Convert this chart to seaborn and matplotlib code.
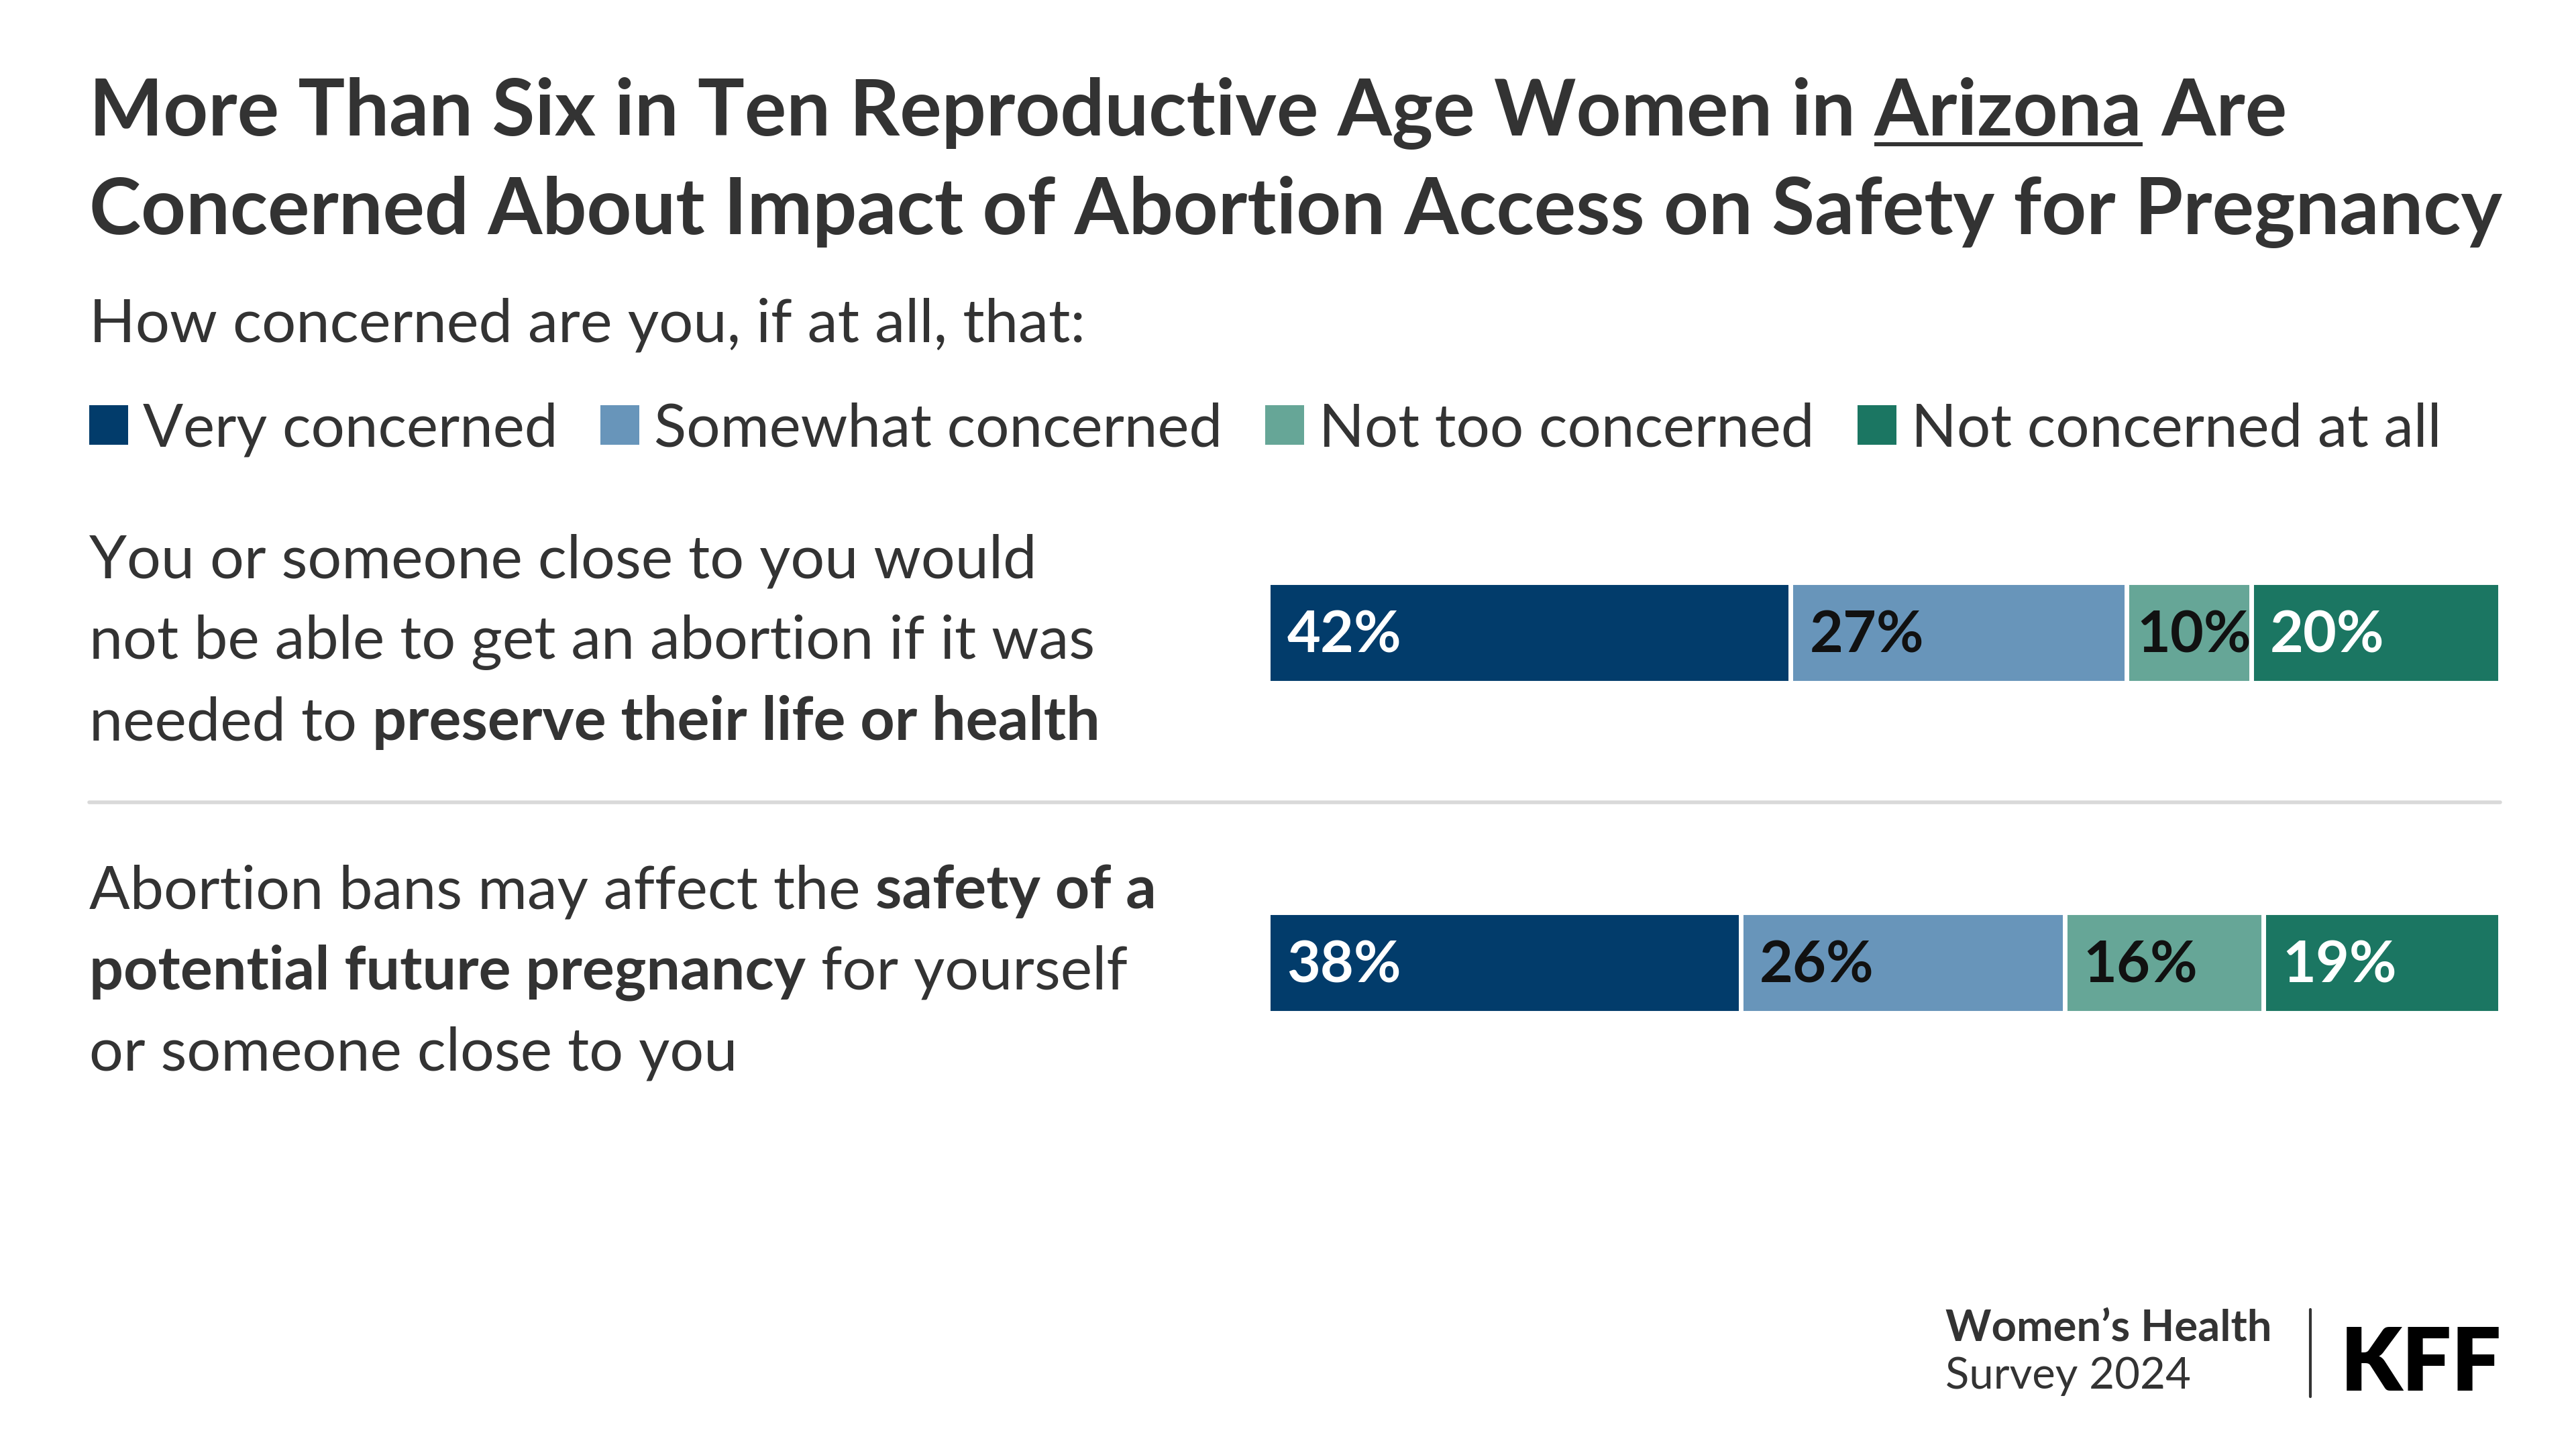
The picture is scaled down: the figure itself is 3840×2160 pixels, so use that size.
import numpy as np
import pandas as pd
import matplotlib
matplotlib.use("Agg")
import matplotlib.pyplot as plt
import seaborn as sns
from matplotlib.lines import Line2D
from matplotlib.patches import Patch

# data
questions = ["life_health", "future_pregnancy"]
categories = ["Very concerned", "Somewhat concerned", "Not too concerned", "Not concerned at all"]
very = [42, 38]
somewhat = [27, 26]
not_too = [10, 16]
not_at_all = [20, 19]

colors = ["#023c6b", "#6895ba", "#66a697", "#1b7662"]
label_colors = ["white", "#111111", "#111111", "white"]

sns.set_theme(style="white")
plt.rcParams["font.family"] = ["Lato", "DejaVu Sans"]
TXT = "#333333"

W, H = 19.2, 10.8
fig = plt.figure(figsize=(W, H), dpi=200)
renderer = fig.canvas.get_renderer()
FIG_W = W * 200


def runs_text(x, y, runs, size, color=TXT, underline=None):
    """draw pieces of text one after the other on a baseline"""
    for txt, weight in runs:
        t = fig.text(x, y, txt, fontsize=size, fontweight=weight, color=color,
                     ha="left", va="baseline")
        bb = t.get_window_extent(renderer)
        w = bb.width / FIG_W
        if underline is not None and txt == underline:
            fig.add_artist(Line2D([x, x + w], [y - 0.0062, y - 0.0062], transform=fig.transFigure,
                                  color=color, lw=2.2, solid_capstyle="butt"))
        x += w
    return x


# title
runs_text(0.0346, 0.9066, [("More Than Six in Ten Reproductive Age Women in ", "bold"),
                           ("Arizona", "bold"), (" Are", "bold")], 42, underline="Arizona")
runs_text(0.0346, 0.8382, [("Concerned About Impact of Abortion Access on Safety for Pregnancy", "bold")], 42)
fig.text(0.0346, 0.764, "How concerned are you, if at all, that:", fontsize=32.5, color=TXT,
         ha="left", va="baseline")

# legend
handles = [Patch(facecolor=c, edgecolor="none", label=l) for c, l in zip(colors, categories)]
fig.legend(handles=handles, loc="center left", bbox_to_anchor=(0.0346, 0.7037), ncol=4,
           frameon=False, fontsize=32, handlelength=0.65, handleheight=0.65,
           handletextpad=0.25, columnspacing=0.72, labelcolor=TXT, borderaxespad=0,
           borderpad=0)

# row labels
row1 = [[("You or someone close to you would", "normal")],
        [("not be able to get an abortion if it was", "normal")],
        [("needed to ", "normal"), ("preserve their life or health", "bold")]]
row2 = [[("Abortion bans may affect the ", "normal"), ("safety of a", "bold")],
        [("potential future pregnancy", "bold"), (" for yourself", "normal")],
        [("or someone close to you", "normal")]]
for runs, y in zip(row1, [0.601, 0.5452, 0.4893]):
    runs_text(0.0346, y, runs, 32.3)
for runs, y in zip(row2, [0.3731, 0.3172, 0.2614]):
    runs_text(0.0346, y, runs, 32.3)

fig.add_artist(Line2D([0.0346, 0.9705], [0.4462, 0.4462], transform=fig.transFigure,
                      color="#d9d9d9", lw=2))

# stacked bars
df = pd.DataFrame({"question": questions, categories[0]: very, categories[1]: somewhat,
                   categories[2]: not_too, categories[3]: not_at_all})
cum = df[categories].cumsum(axis=1)

ax = fig.add_axes([0.4923, 0.225, 0.9705 - 0.4923, 0.433])
for i in range(len(categories) - 1, -1, -1):
    sns.barplot(x=cum[categories[i]], y=df["question"], orient="h", color=colors[i],
                width=0.305, edgecolor="white", linewidth=2.5, ax=ax, saturation=1)

starts = cum.shift(1, axis=1).fillna(0)
for r in range(len(questions)):
    for i, c in enumerate(categories):
        pad = 0.8 if df.loc[r, c] < 12 else 1.5
        ax.text(starts.loc[r, c] + pad, r + 0.01, f"{df.loc[r, c]}%", color=label_colors[i],
                fontsize=31, fontweight="bold", ha="left", va="center")

ax.set_xlim(0, 99)
ax.set_ylim(1.485, -0.415)
ax.axis("off")

# footer
fig.text(0.7551, 0.0746, "Women\u2019s Health", fontsize=23.5, fontweight="bold", color=TXT,
         ha="left", va="baseline")
fig.text(0.7551, 0.0416, "Survey 2024", fontsize=23.5, color=TXT, ha="left", va="baseline")
fig.add_artist(Line2D([0.8968, 0.8968], [0.0359, 0.0963], transform=fig.transFigure,
                      color=TXT, lw=1.5))
fig.text(0.9712, 0.0405, "KFF", fontsize=47, fontweight="heavy", color="black",
         ha="right", va="baseline")

fig.savefig("out.png", dpi=200, facecolor="white")
